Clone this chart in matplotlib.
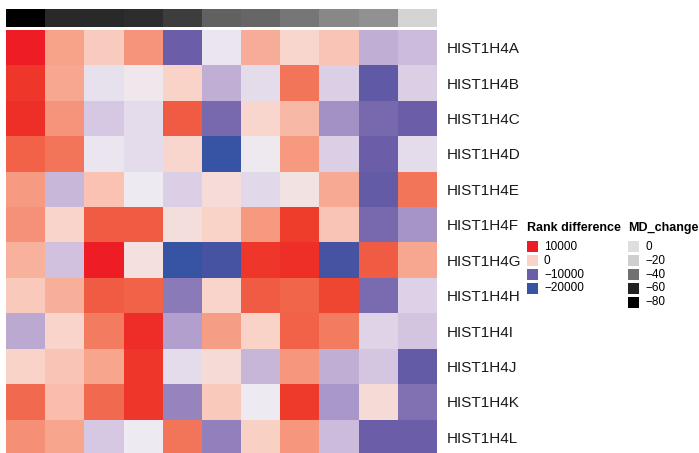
import matplotlib
matplotlib.use("Agg")
import matplotlib.pyplot as plt
import numpy as np
from matplotlib.colors import LinearSegmentedColormap, Normalize
from matplotlib.patches import Rectangle

plt.rcParams['font.family'] = ['Liberation Sans', 'DejaVu Sans']

genes = ['HIST1H4A', 'HIST1H4B', 'HIST1H4C', 'HIST1H4D', 'HIST1H4E', 'HIST1H4F',
         'HIST1H4G', 'HIST1H4H', 'HIST1H4I', 'HIST1H4J', 'HIST1H4K', 'HIST1H4L']

# rank difference, one row per gene, 11 samples
rank_diff = [
    [10000, 2300, 300, 3000, -10000, -1800, 1800, -300, 700, -5000, -4000],
    [8000, 2100, -2000, -1300, 0, -5000, -2300, 4500, -3000, -11500, -3000],
    [8500, 3000, -3300, -2300, 5800, -9300, -300, 1300, -7000, -9300, -10000],
    [5500, 4500, -1800, -2300, -300, -20000, -1400, 2800, -3000, -10000, -2200],
    [2700, -4200, 800, -1600, -3000, -600, -2500, -1000, 2000, -11000, 4500],
    [3200, -100, 5800, 5800, -700, 0, 2800, 7500, 700, -9300, -6800],
    [1600, -3700, 10000, -800, -20000, -16000, 8000, 8500, -16000, 5800, 2100],
    [500, 1700, 5800, 5500, -8300, -100, 5800, 5200, 7000, -9200, -2800],
    [-5300, -100, 4200, 8700, -6000, 2600, 0, 5500, 4200, -2700, -3500],
    [0, 700, 2200, 8000, -2200, -500, -4400, 2900, -5000, -3400, -11000],
    [5000, 1000, 5000, 8000, -7800, 400, -1600, 7700, -6600, -500, -8800],
    [3300, 2200, -3300, -1600, 4500, -8000, 100, 2900, -4000, -10000, -10000],
]

md_change = [-80, -58, -58, -57, -53, -43.5, -42.5, -38.5, -35, -33, -13]

rank_ticks = [10000, 0, -10000, -20000]
md_ticks = [0, -20, -40, -60, -80]

# colour ramps
rank_nodes = [(-20000, '#3753A4'), (-15000, '#4A54A2'), (-10000, '#6B5DA8'),
              (-7000, '#A592C6'), (-4000, '#CDBBDC'), (-1500, '#EEEBF2'),
              (0, '#FAD3C8'), (2500, '#F7A087'), (5000, '#F26C50'),
              (7500, '#EF3E2C'), (10000, '#EE1C25')]
rlo, rhi = -20000, 10000
rank_cmap = LinearSegmentedColormap.from_list(
    'rank', [((v - rlo) / (rhi - rlo), c) for v, c in rank_nodes])
rank_norm = Normalize(rlo, rhi)

md_nodes = [(-80, '#000000'), (-60, '#222222'), (-40, '#707070'),
            (-20, '#CFCFCF'), (0, '#DEDEDE')]
mlo, mhi = -80, 0
md_cmap = LinearSegmentedColormap.from_list(
    'md', [((v - mlo) / (mhi - mlo), c) for v, c in md_nodes])
md_norm = Normalize(mlo, mhi)

W, H = 699, 453
fig = plt.figure(figsize=(W / 100, H / 100), dpi=100)

def fbox(x0, y0, x1, y1):
    # pixel box (top-left origin) -> figure fraction rect
    return [x0 / W, 1 - y1 / H, (x1 - x0) / W, (y1 - y0) / H]

# top annotation
ax_top = fig.add_axes(fbox(6, 9, 437, 27))
ax_top.imshow(np.array([md_change]), cmap=md_cmap, norm=md_norm,
              aspect='auto', interpolation='nearest')
ax_top.axis('off')

# main heatmap
ax = fig.add_axes(fbox(6, 30, 437, 455))
ax.imshow(np.array(rank_diff), cmap=rank_cmap, norm=rank_norm,
          aspect='auto', interpolation='nearest')
ax.set_xticks([])
ax.set_yticks(range(len(genes)))
ax.set_yticklabels(genes, fontsize=11, color='#1a1a1a')
ax.yaxis.tick_right()
ax.tick_params(axis='y', length=0, pad=7)
for s in ax.spines.values():
    s.set_visible(False)

# legends
def draw_legend(x, title, ticks, cmap, norm):
    fig.text(x / W, 1 - 228 / H, title, fontsize=9, fontweight='bold',
             ha='left', va='center')
    for i, t in enumerate(ticks):
        yc = 247 + i * 13.8
        fig.add_artist(Rectangle((x / W, 1 - (yc + 5.5) / H), 11 / W, 11 / H,
                                 transform=fig.transFigure,
                                 facecolor=cmap(norm(t)), edgecolor='none'))
        fig.text((x + 17) / W, 1 - yc / H, f'{t}'.replace('-', '\u2212'),
                 fontsize=8.5, ha='left', va='center')

draw_legend(527, 'Rank difference', rank_ticks, rank_cmap, rank_norm)
draw_legend(628, 'MD_change', md_ticks, md_cmap, md_norm)

fig.savefig('out.png', dpi=100)
